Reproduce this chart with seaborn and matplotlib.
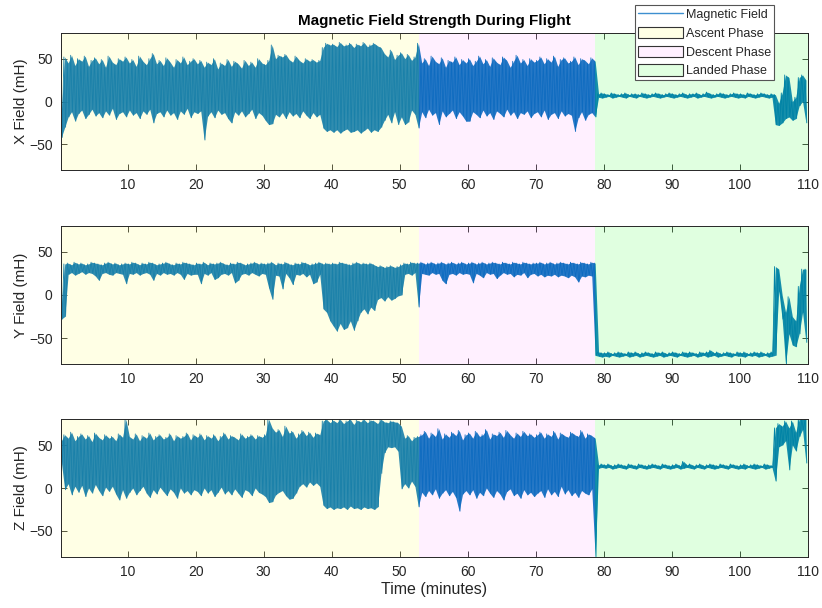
import numpy as np
import matplotlib
matplotlib.use("Agg")
import matplotlib.pyplot as plt
from matplotlib.lines import Line2D
from matplotlib.patches import Patch
import seaborn as sns

# ---------------- data ----------------
# half-minute bins: bin i covers [0.5*i, 0.5*i + 0.5] minutes; upper / lower extremes per bin
BIN_START = 0.0
BIN_WIDTH = 0.5

X_HI = [-12, 52, 45, 54, 42, 50, 47, 53, 41, 48, 51, 44, 49, 40, 53, 46, 43, 50, 47, 52,
        45, 49, 41, 53, 47, 43, 50, 56, 44, 48, 42, 51, 46, 40, 49, 45, 52, 43, 47, 50,
        44, 48, 40, 46, 43, 50, 38, 45, 42, 49, 41, 47, 44, 39, 48, 42, 46, 40, 50, 45,
        43, 48, 66, 50, 54, 52, 55, 49, 46, 53, 48, 45, 50, 47, 49, 46, 48, 63, 68, 66,
        67, 64, 69, 65, 66, 68, 63, 67, 65, 69, 64, 66, 68, 65, 63, 56, 52, 60, 49, 54,
        57, 50, 55, 48, 52, 68, 45, 50, 42, 53, 47, 44, 51, 40, 48, 46, 52, 43, 49, 45,
        50, 42, 47, 53, 44, 49, 41, 51, 46, 43, 52, 48, 40, 47, 54, 45, 49, 42, 50, 46,
        48, 52, 44, 50, 46, 53, 41, 49, 51, 45, 47, 52, 43, 50, 48, 44, 51, 47, 9, 10,
        9, 8, 10, 9, 8, 9, 10, 8, 9, 9, 8, 10, 9, 8, 9, 10, 9, 8, 9, 10,
        9, 8, 9, 10, 8, 9, 9, 10, 8, 9, 11, 9, 8, 9, 10, 9, 8, 9, 10, 9,
        9, 8, 10, 9, 8, 9, 10, 9, 8, 9, 8, -2, 10, 31, 28, 0, 5, 28, 31, 25]
X_LO = [-42, -30, -18, -12, -23, -14, -10, -20, -15, -9, -17, -13, -19, -11, -16, -8, -21, -14, -12, -18,
        -10, -16, -13, -20, -11, -15, -9, -25, -14, -12, -18, -10, -16, -13, -21, -11, -15, -8, -19, -12,
        -14, -11, -45, -17, -12, -19, -10, -15, -13, -20, -25, -12, -16, -11, -18, -14, -9, -20, -13, -16,
        -22, -27, -26, -15, -18, -13, -20, -12, -17, -14, -19, -11, -16, -20, -13, -18, -15, -31, -35, -33,
        -36, -33, -37, -34, -32, -36, -35, -33, -37, -34, -31, -36, -33, -35, -30, -22, -15, -25, -12, -27,
        -18, -27, -24, -10, -15, -31, -12, -19, -9, -16, -13, -27, -11, -18, -14, -10, -20, -12, -17, -23,
        -23, -12, -15, -19, -10, -17, -13, -21, -11, -14, -18, -9, -16, -12, -20, -13, -15, -11, -19, -14,
        -12, -18, -10, -21, -15, -13, -20, -11, -17, -14, -16, -35, -19, -12, -22, -15, -13, -18, 5, 4,
        5, 6, 4, 5, 6, 5, 4, 6, 5, 4, 6, 5, 4, 5, 6, 5, 4, 5, 6, 5,
        4, 5, 6, 5, 4, 5, 6, 4, 5, 6, 5, 4, 5, 6, 5, 4, 5, 6, 5, 4,
        5, 4, 6, 5, 4, 5, 6, 5, 4, 5, -27, -28, -25, -20, -18, -22, -20, -5, 0, -25]

Y_HI = [-12, 36, 37, 35, 38, 36, 37, 35, 36, 38, 37, 36, 35, 37, 38, 36, 37, 35, 36, 37,
        36, 38, 37, 35, 37, 36, 38, 37, 35, 36, 37, 38, 36, 35, 37, 36, 38, 37, 36, 35,
        37, 36, 38, 35, 37, 36, 37, 38, 36, 35, 37, 36, 38, 37, 35, 36, 37, 38, 36, 37,
        36, 37, 38, 35, 37, 36, 38, 36, 35, 37, 36, 38, 37, 35, 36, 37, 38, 36, 37, 36,
        37, 36, 38, 37, 36, 35, 37, 38, 36, 37, 36, 37, 35, 33, 34, 32, 33, 34, 32, 33,
        35, 37, 36, 38, 37, 37, 38, 36, 37, 38, 36, 37, 38, 36, 37, 38, 36, 37, 38, 36,
        37, 38, 36, 37, 38, 36, 37, 38, 37, 36, 38, 37, 36, 38, 37, 36, 38, 37, 36, 37,
        37, 38, 36, 37, 38, 36, 37, 38, 37, 36, 38, 37, 36, 38, 37, 36, 38, 37, -66, -67,
        -67, -66, -68, -67, -66, -67, -68, -66, -67, -66, -68, -67, -66, -67, -68, -66, -67, -66, -68, -67,
        -66, -67, -68, -66, -67, -66, -67, -68, -66, -67, -66, -64, -67, -66, -68, -67, -66, -67, -68, -66,
        -67, -66, -68, -67, -66, -67, -66, -68, -67, -66, 33, 30, 0, -20, -2, -25, -30, 10, 30, 30]
Y_LO = [-28, -25, 24, 26, 23, 25, 27, 24, 26, 25, 22, 17, 25, 26, 24, 23, 26, 25, 24, 13,
        25, 24, 26, 23, 25, 26, 24, 17, 25, 23, 26, 24, 25, 23, 26, 24, 18, 25, 23, 24,
        24, 13, 25, 23, 26, 18, 20, 24, 25, 23, 26, 14, 17, 24, 25, 23, 26, 24, 22, 25,
        24, 8, -5, 23, 22, 7, 25, 20, 12, 24, 23, 25, 21, 24, 13, 15, 24, -16, -20, -30,
        -36, -42, -33, -40, -38, -30, -41, -30, -20, -16, -22, -14, -18, -5, -3, -7, -2, -6, -4, -1,
        0, 24, 25, 23, 26, -14, 25, 24, 23, 26, 24, 25, 17, 13, 24, 25, 23, 26, 24, 25,
        24, 14, 25, 23, 20, 26, 24, 25, 19, 23, 26, 24, 25, 21, 24, 23, 26, 20, 24, 25,
        22, 24, 21, 23, 22, 24, 21, 23, 22, 20, 23, 21, 15, 22, 21, 23, 22, -70, -71, -72,
        -71, -72, -70, -71, -72, -71, -70, -72, -71, -70, -72, -71, -70, -71, -72, -71, -70, -72, -71, -70,
        -71, -72, -70, -71, -72, -71, -70, -72, -71, -70, -72, -71, -70, -72, -71, -70, -71, -72, -70, -71,
        -71, -72, -70, -71, -70, -72, -71, -70, -72, -71, -70, 5, -28, -80, -45, -58, -60, -45, -20, -55]

Z_HI = [55, 62, 58, 65, 55, 60, 63, 57, 61, 54, 64, 59, 56, 62, 58, 60, 55, 63, 59, 80,
        60, 57, 63, 55, 61, 58, 64, 56, 60, 62, 57, 59, 63, 55, 61, 58, 60, 64, 56, 62,
        59, 63, 56, 61, 58, 62, 55, 60, 64, 57, 61, 59, 56, 63, 58, 60, 62, 57, 61, 59,
        62, 80, 70, 65, 68, 60, 72, 64, 66, 58, 63, 67, 61, 65, 59, 64, 62, 78, 80, 76,
        79, 76, 80, 75, 78, 80, 74, 79, 77, 80, 76, 79, 78, 75, 80, 77, 76, 78, 77, 76,
        72, 58, 61, 55, 59, 60, 62, 66, 58, 64, 60, 69, 57, 63, 59, 65, 61, 67, 56, 62,
        64, 58, 66, 60, 62, 68, 57, 63, 61, 65, 59, 67, 62, 58, 64, 60, 66, 61, 63, 59,
        62, 65, 58, 63, 60, 66, 57, 64, 61, 59, 65, 62, 60, 67, 58, 63, 61, 58, 27, 28,
        27, 28, 26, 27, 28, 27, 26, 28, 27, 26, 28, 27, 26, 27, 28, 27, 26, 28, 27, 26,
        27, 28, 26, 31, 27, 28, 26, 27, 28, 26, 27, 28, 27, 26, 28, 27, 26, 28, 27, 26,
        27, 28, 26, 27, 28, 27, 26, 28, 27, 26, 70, 75, 72, 78, 70, 78, 65, 80, 80, 80]
Z_LO = [30, -2, 5, -8, 2, -5, 3, -10, 0, -6, 4, -3, -9, 1, -4, 2, -7, -14, -2, -12,
        -5, 0, -8, -3, 2, -6, -11, -2, -7, 1, -4, -9, -1, -5, -12, 0, -6, -3, -8, -2,
        -4, -9, 0, -6, -2, -10, -5, 1, -7, -3, -8, -1, -6, -11, -2, -4, -9, 0, -5, -7,
        -10, -17, -16, -8, -5, -3, -9, -13, -12, -6, 2, 5, 1, 7, 3, 6, 2, -20, -24, -22,
        -25, -23, -24, -22, -25, -21, -24, -23, -25, -22, -24, -23, -25, -22, 17, 41, 48, 47, 48, 43,
        -1, 5, 0, 8, 2, -22, -5, -10, -3, -8, -1, -12, -6, -2, -9, -4, -11, -27, -7, -3,
        -8, -2, -12, -5, -9, 0, -6, -11, -3, -7, -14, -4, -1, -9, -6, -12, -2, -8, -5, -10,
        -6, -3, -11, -1, -8, -4, -10, 2, -7, -2, -9, -5, -11, -3, -6, -8, -1, -80, 23, 24,
        23, 24, 22, 23, 24, 23, 22, 24, 23, 22, 24, 23, 22, 23, 24, 23, 22, 24, 23, 22,
        23, 24, 22, 23, 24, 23, 22, 24, 23, 22, 24, 23, 22, 23, 24, 23, 22, 24, 23, 22,
        23, 22, 24, 23, 22, 23, 24, 22, 23, 24, 8, 48, 50, 55, 21, 50, 43, 60, 68, 29]

PHASE_NAMES = ["Ascent Phase", "Descent Phase", "Landed Phase"]
PHASE_START = [0.2, 52.9, 78.8]
PHASE_END = [52.9, 78.8, 110.05]

PANEL_LABELS = ["X Field (mH)", "Y Field (mH)", "Z Field (mH)"]
XTICKS = [10, 20, 30, 40, 50, 60, 70, 80, 90, 100, 110]
YTICKS = [-50, 0, 50]
TITLE = "Magnetic Field Strength During Flight"
XLABEL = "Time (minutes)"

# ---------------- style ----------------
sns.set_theme(style="white")
plt.rcParams["font.family"] = ["Liberation Sans", "DejaVu Sans"]
BLUE = "#0072BD"
TXT = "#262626"
PHASE_COLORS = [((1, 1, 0), 0.10), ((1, 0, 1), 0.06), ((0, 1, 0), 0.12)]

fig = plt.figure(figsize=(8.22, 6.08), dpi=100)
L, W = 61 / 822, 747 / 822
boxes = [(170, 137), (364, 138), (556.7, 137.4)]

series = [(X_HI, X_LO), (Y_HI, Y_LO), (Z_HI, Z_LO)]

for k, ((hi, lo), (bot, h)) in enumerate(zip(series, boxes)):
    ax = fig.add_axes([L, 1 - bot / 608, W, h / 608])
    n = len(hi)
    centers = BIN_START + BIN_WIDTH * (np.arange(n) + 0.5)
    xz = np.column_stack([centers - BIN_WIDTH / 4, centers + BIN_WIDTH / 4]).ravel()
    yz = np.column_stack([hi, lo]).ravel()
    # envelope of the dense trace
    ax.fill_between(centers, lo, hi, color=BLUE, alpha=0.9, linewidth=0, zorder=1.9)
    # the trace itself
    sns.lineplot(x=xz, y=yz, sort=False, estimator=None, color=BLUE, linewidth=0.6,
                 ax=ax, zorder=2.1)
    for (c, a), s, e in zip(PHASE_COLORS, PHASE_START, PHASE_END):
        ax.axvspan(s, e, facecolor=c, alpha=a, linewidth=0, zorder=3)
    ax.set_xlim(0.2, 110.05)
    ax.set_ylim(-80, 80)
    ax.set_xticks(XTICKS)
    ax.set_yticks(YTICKS)
    ax.tick_params(direction="in", length=4, width=0.6, top=True, right=True,
                   bottom=True, left=True, labelsize=10, colors=TXT, pad=6)
    for sp in ax.spines.values():
        sp.set_color(TXT)
        sp.set_linewidth(0.7)
        sp.set_zorder(5)
    ax.set_ylabel(PANEL_LABELS[k], fontsize=11, color=TXT, labelpad=1)
    ax.set_xlabel("")
    if k == 0:
        ax.set_title(TITLE, fontsize=11, fontweight="bold", color="black", pad=6)
    if k == 2:
        ax.set_xlabel(XLABEL, fontsize=11.5, color=TXT, labelpad=2)

handles = [Line2D([0], [0], color="#3d8fd0", linewidth=1.0)]
for (c, a) in PHASE_COLORS:
    handles.append(Patch(facecolor=(*c, a), edgecolor="#333333", linewidth=0.8))
leg = fig.legend(handles, ["Magnetic Field"] + PHASE_NAMES, loc="upper left",
                 bbox_to_anchor=(635 / 822, 1 - 5 / 608), fontsize=9, frameon=True,
                 fancybox=False, framealpha=1, edgecolor="#555555", handlelength=3.6,
                 handleheight=1.05, labelspacing=0.45, borderpad=0.25, handletextpad=0.2,
                 borderaxespad=0)
leg.get_frame().set_linewidth(0.8)
for t in leg.get_texts():
    t.set_color(TXT)

fig.savefig("out.png", dpi=100)
